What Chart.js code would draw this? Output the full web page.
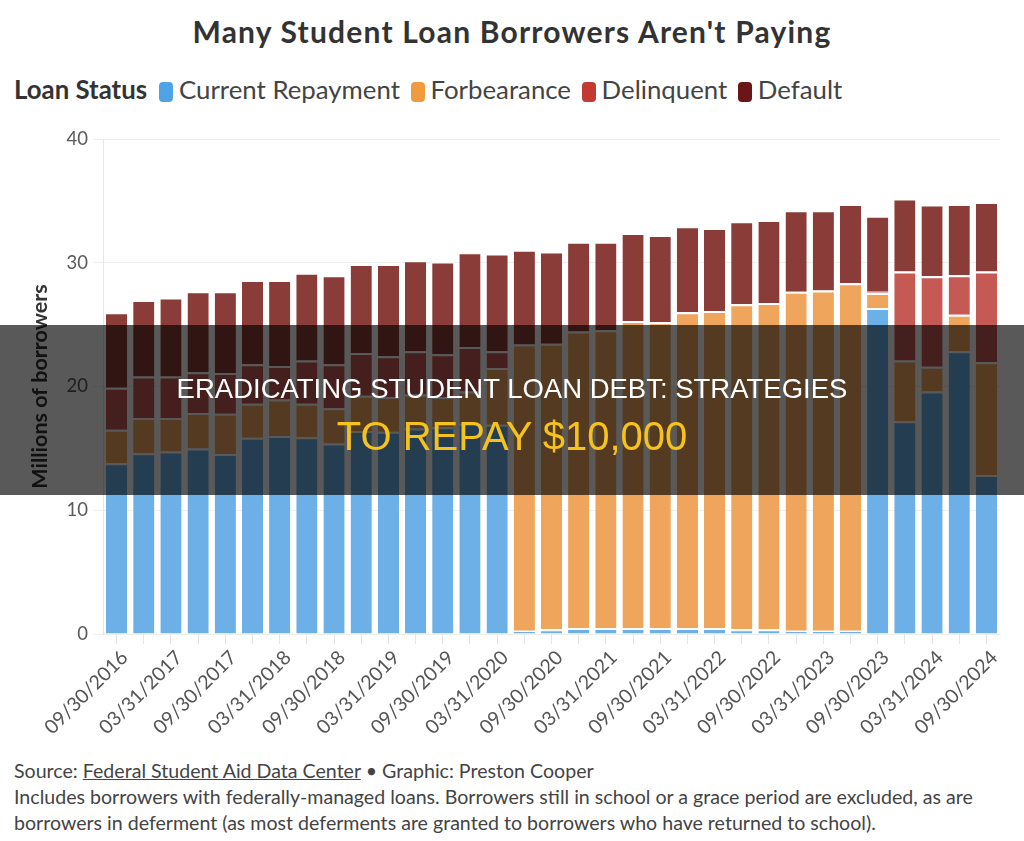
<!DOCTYPE html>
<html>
<head>
<meta charset="utf-8">
<script src="https://cdn.jsdelivr.net/npm/chart.js@4.4.1/dist/chart.umd.min.js"></script>
<style>
  body { margin: 0; background: #fff; font-family: Lato, sans-serif; }
  #page { position: relative; width: 1024px; height: 841px; overflow: hidden; }
  #title { position: absolute; top: 13px; left: 0; width: 1024px; text-align: center;
           font-size: 30px; font-weight: bold; color: #333; letter-spacing: 1.2px; }
  #legend { position: absolute; top: 74px; left: 14px; font-size: 25.8px; color: #444; white-space: nowrap; }
  #legend b { color: #333; margin-right: 8px; }
  #legend .sw { display: inline-block; width: 14px; height: 20px; border-radius: 4px;
                vertical-align: -3px; margin: 0 6px 0 4px; }
  #wrap { position: absolute; top: 120px; left: 0; width: 1024px; height: 630px; }
  #notes { position: absolute; top: 758px; left: 14px; font-size: 19.6px; line-height: 26px; color: #444; }
  #notes u { text-decoration-thickness: 1px; }
  #band { position: absolute; top: 325px; left: 0; width: 1024px; height: 170px;
          background: rgba(0, 0, 0, 0.65); font-family: "Liberation Sans", Arial, sans-serif; text-align: center; }
  #band .l1 { position: absolute; top: 48px; width: 100%; font-size: 27.5px; color: #fff; }
  #band .l2 { position: absolute; top: 89px; width: 100%; font-size: 40px; color: #f6c21c; }
</style>
</head>
<body>
<div id="page">
  <div id="title">Many Student Loan Borrowers Aren't Paying</div>
  <div id="legend"><b>Loan Status</b><span class="sw" style="background:#4fa4e8"></span>Current Repayment
    <span class="sw" style="background:#f09b40"></span>Forbearance
    <span class="sw" style="background:#c23b33"></span>Delinquent
    <span class="sw" style="background:#6b1616"></span>Default</div>
  <div id="wrap"><canvas id="loans"></canvas></div>
  <div id="notes">Source: <u>Federal Student Aid Data Center</u> &bull; Graphic: Preston Cooper<br>
    Includes borrowers with federally-managed loans. Borrowers still in school or a grace period are excluded, as are<br>
    borrowers in deferment (as most deferments are granted to borrowers who have returned to school).</div>
  <div id="band">
    <div class="l1">ERADICATING STUDENT LOAN DEBT: STRATEGIES</div>
    <div class="l2">TO REPAY $10,000</div>
  </div>
</div>
<script>
// quarter end dates, only every other one gets a label on the axis
const quarters = [
  '09/30/2016', '12/31/2016', '03/31/2017', '06/30/2017', '09/30/2017', '12/31/2017',
  '03/31/2018', '06/30/2018', '09/30/2018', '12/31/2018', '03/31/2019', '06/30/2019',
  '09/30/2019', '12/31/2019', '03/31/2020', '06/30/2020', '09/30/2020', '12/31/2020',
  '03/31/2021', '06/30/2021', '09/30/2021', '12/31/2021', '03/31/2022', '06/30/2022',
  '09/30/2022', '12/31/2022', '03/31/2023', '06/30/2023', '09/30/2023', '12/31/2023',
  '03/31/2024', '06/30/2024', '09/30/2024'
];

// millions of borrowers
const currentRepayment = [13.8, 14.6, 14.75, 15.0, 14.55, 15.85, 16.0, 15.9, 15.4, 16.4, 16.35, 16.6, 16.7, 17.0, 16.9,
  0.27, 0.38, 0.49, 0.49, 0.49, 0.49, 0.49, 0.49, 0.38, 0.38, 0.27, 0.27, 0.27, 26.35, 17.2, 19.6, 22.85, 12.85];
const forbearance = [2.7, 2.85, 2.7, 2.85, 3.25, 2.75, 2.95, 2.7, 2.85, 2.85, 2.8, 2.75, 2.45, 2.6, 4.6,
  23.13, 23.07, 23.96, 24.06, 24.81, 24.71, 25.51, 25.61, 26.27, 26.37, 27.38, 27.48, 28.08, 1.2, 4.9, 2.0, 2.95, 9.1];
const delinquent = [3.4, 3.35, 3.35, 3.3, 3.3, 3.2, 2.7, 3.5, 3.55, 3.45, 3.3, 3.5, 3.45, 3.6, 1.35,
  0, 0, 0, 0, 0, 0, 0, 0, 0, 0, 0, 0, 0, 0.1, 7.2, 7.3, 3.2, 7.35];
const defaulted = [6.1, 6.2, 6.4, 6.55, 6.6, 6.8, 6.95, 7.1, 7.2, 7.2, 7.45, 7.35, 7.5, 7.65, 7.9,
  7.65, 7.45, 7.25, 7.15, 7.1, 7.05, 6.95, 6.7, 6.7, 6.7, 6.6, 6.5, 6.4, 6.15, 5.9, 5.8, 5.75, 5.6];

const yTicks = [0, 10, 20, 30, 40];

function series(label, data, color) {
  return {
    label: label,
    data: data,
    backgroundColor: color,
    borderColor: '#ffffff',
    borderWidth: { top: 2, left: 0, right: 0, bottom: 0 },
    borderSkipped: 'start',
    barPercentage: 0.78,
    categoryPercentage: 1.0
  };
}

const ctx = document.getElementById('loans').getContext('2d');
new Chart(ctx, {
  type: 'bar',
  data: {
    labels: quarters,
    datasets: [
      series('Current Repayment', currentRepayment, '#6cb0e7'),
      series('Forbearance', forbearance, '#efa55c'),
      series('Delinquent', delinquent, '#c55a54'),
      series('Default', defaulted, '#8a3c38')
    ]
  },
  options: {
    responsive: true,
    maintainAspectRatio: false,
    animation: false,
    layout: { padding: { top: 19, right: 24, left: 0, bottom: 0 } },
    plugins: {
      legend: { display: false },
      tooltip: { enabled: false }
    },
    scales: {
      x: {
        stacked: true,
        afterFit: (s) => { s.height = 116; },
        grid: { offset: false, drawOnChartArea: false, tickLength: 10, color: '#e4e4e4' },
        border: { display: false },
        ticks: {
          autoSkip: false,
          maxRotation: 45,
          minRotation: 45,
          padding: 2,
          labelOffset: 8,
          color: '#555',
          font: { family: 'Lato', size: 19.5 },
          callback: (v, i) => (i % 2 === 0 ? quarters[i] : '')
        }
      },
      y: {
        stacked: true,
        min: 0,
        max: 40,
        afterFit: (s) => { s.width = 103; },
        afterBuildTicks: (s) => { s.ticks = yTicks.map(v => ({ value: v })); },
        grid: { color: '#eeeeee', tickLength: 10 },
        border: { color: '#e6e6e6' },
        ticks: { padding: 5, color: '#5a5a5a', font: { family: 'Lato', size: 18.5 } },
        title: {
          display: true,
          text: 'Millions of borrowers',
          color: '#333',
          font: { family: 'Lato', size: 21.5, weight: 'bold' },
          padding: { top: 27, bottom: 0 }
        }
      }
    }
  }
});
</script>
</body>
</html>
